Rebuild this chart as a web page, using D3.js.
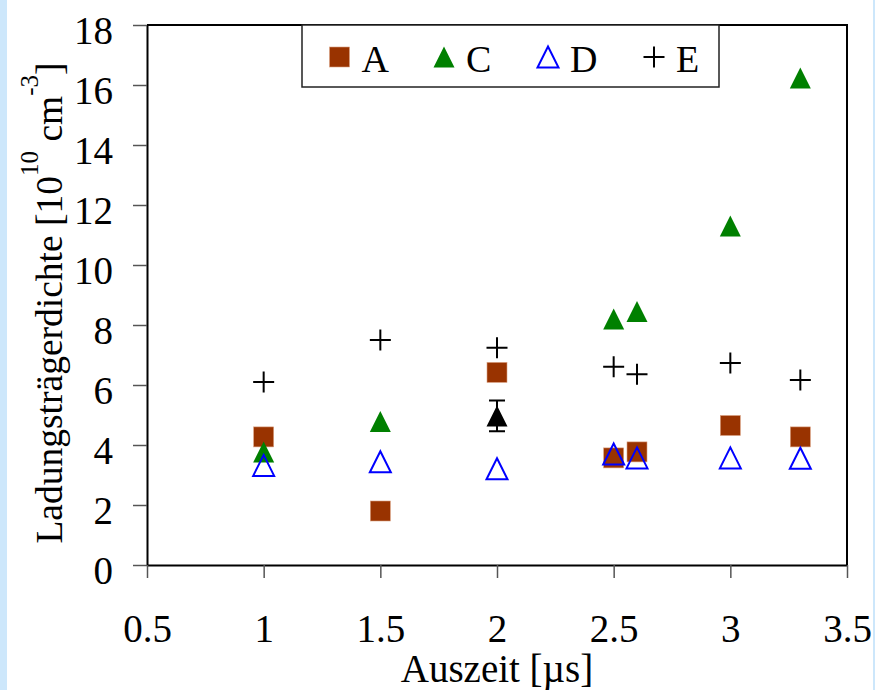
<!DOCTYPE html>
<html>
<head>
<meta charset="utf-8">
<script src="https://cdn.jsdelivr.net/npm/d3@7/dist/d3.min.js"></script>
<style>
  body { margin: 0; background: #fff; }
  svg { display: block; font-family: "Liberation Serif", "Times New Roman", serif; }
</style>
</head>
<body>
<div id="chart"></div>
<script>
// values
const xValues = [1, 1.5, 2, 2.5, 2.6, 3, 3.3];
const seriesA = [4.27, 1.8, 6.42, 3.57, 3.77, 4.65, 4.27];
const seriesC = [3.77, 4.78, null, 8.2, 8.45, 11.3, 16.23];
const seriesD = [3.32, 3.44, 3.21, 3.7, 3.57, 3.57, 3.56];
const seriesE = [6.1, 7.5, 7.24, 6.61, 6.36, 6.73, 6.17];
const meanX = [2];
const meanY = [4.97];
const meanErr = [0.51];

const xTicks = [0.5, 1, 1.5, 2, 2.5, 3, 3.5];
const yTicks = [0, 2, 4, 6, 8, 10, 12, 14, 16, 18];
const legendNames = ["A", "C", "D", "E"];

const width = 875;
const height = 690;
const plot = { left: 147, right: 847, top: 25, bottom: 565 };

const svg = d3.select("#chart").append("svg")
  .attr("width", width)
  .attr("height", height);

// light blue page edges
svg.append("rect").attr("x", 0).attr("y", 0).attr("width", 7).attr("height", height).attr("fill", "#cde7fb");
svg.append("rect").attr("x", 873).attr("y", 0).attr("width", 2).attr("height", height).attr("fill", "#cde7fb");

const x = d3.scaleLinear().domain([0.5, 3.5]).range([plot.left, plot.right]);
const y = d3.scaleLinear().domain([0, 18]).range([plot.bottom, plot.top]);

// frame top + right
svg.append("path")
  .attr("d", `M${x(0.5)},${y(18)}H${x(3.5)}V${y(0)}`)
  .attr("fill", "none")
  .attr("stroke", "#000")
  .attr("stroke-width", 2);

// y axis
const yAxis = svg.append("g")
  .attr("transform", `translate(${plot.left},0)`)
  .call(d3.axisLeft(y).tickValues(yTicks).tickSize(14).tickSizeOuter(0).tickFormat(d3.format("d")));
yAxis.select(".domain").attr("stroke", "#000").attr("stroke-width", 2);
yAxis.selectAll(".tick line").attr("stroke", "#555").attr("stroke-width", 1.5);
yAxis.selectAll(".tick text")
  .attr("x", -34).attr("dy", null).attr("y", 18)
  .attr("fill", "#000")
  .style("font-size", "39px")
  .style("font-family", "'Liberation Serif', 'Times New Roman', serif");

// x axis
const xAxis = svg.append("g")
  .attr("transform", `translate(0,${plot.bottom})`)
  .call(d3.axisBottom(x).tickValues(xTicks).tickSize(13).tickSizeOuter(0).tickFormat(d => d));
xAxis.select(".domain").attr("stroke", "#000").attr("stroke-width", 2);
xAxis.selectAll(".tick line").attr("stroke", "#555").attr("stroke-width", 1.5);
xAxis.selectAll(".tick text")
  .attr("y", 77).attr("dy", null)
  .attr("fill", "#000")
  .style("font-size", "39px")
  .style("font-family", "'Liberation Serif', 'Times New Roman', serif");

// marker shapes
const sq = 20, tw = 21, th = 21, pl = 21;
function triPath(cx, cy) {
  return `M${cx},${cy - th / 2}L${cx + tw / 2},${cy + th / 2}L${cx - tw / 2},${cy + th / 2}Z`;
}
function plusPath(cx, cy) {
  return `M${cx - pl / 2},${cy}H${cx + pl / 2}M${cx},${cy - pl / 2}V${cy + pl / 2}`;
}
const pts = (ys) => xValues.map((xv, i) => ({ x: xv, y: ys[i] })).filter(d => d.y != null);

// A: brown squares
svg.append("g").selectAll("rect").data(pts(seriesA)).join("rect")
  .attr("x", d => x(d.x) - sq / 2).attr("y", d => y(d.y) - sq / 2)
  .attr("width", sq).attr("height", sq)
  .attr("fill", "#993300").attr("stroke", "#d9a080").attr("stroke-width", 0.6);

// C: green filled triangles
svg.append("g").selectAll("path").data(pts(seriesC)).join("path")
  .attr("d", d => triPath(x(d.x), y(d.y)))
  .attr("fill", "#008000");

// black mean point with error bar
const meanG = svg.append("g");
meanG.selectAll("path.err").data(meanX).join("path").attr("class", "err")
  .attr("d", (d, i) => {
    const cx = x(d), y1 = y(meanY[i] + meanErr[i]), y2 = y(meanY[i] - meanErr[i]);
    return `M${cx - 8},${y1}H${cx + 8}M${cx},${y1}V${y2}M${cx - 8},${y2}H${cx + 8}`;
  })
  .attr("stroke", "#000").attr("stroke-width", 2).attr("fill", "none");
meanG.selectAll("path.tri").data(meanX).join("path").attr("class", "tri")
  .attr("d", (d, i) => triPath(x(d), y(meanY[i])))
  .attr("fill", "#000");

// D: blue open triangles
svg.append("g").selectAll("path").data(pts(seriesD)).join("path")
  .attr("d", d => triPath(x(d.x), y(d.y)))
  .attr("fill", "none").attr("stroke", "#0000ff").attr("stroke-width", 2);

// E: black plus
svg.append("g").selectAll("path").data(pts(seriesE)).join("path")
  .attr("d", d => plusPath(x(d.x), y(d.y)))
  .attr("stroke", "#000").attr("stroke-width", 2).attr("fill", "none");

// legend
const legend = svg.append("g");
legend.append("rect")
  .attr("x", 302).attr("y", plot.top).attr("width", 417).attr("height", 62)
  .attr("fill", "#fff").attr("stroke", "#222").attr("stroke-width", 1.5);
const legX = [339.5, 444, 548, 654];
const legY = 57;
legend.append("rect").attr("x", legX[0] - sq / 2).attr("y", legY - sq / 2).attr("width", sq).attr("height", sq)
  .attr("fill", "#993300").attr("stroke", "#d9a080").attr("stroke-width", 0.6);
legend.append("path").attr("d", triPath(legX[1], legY)).attr("fill", "#008000");
legend.append("path").attr("d", triPath(legX[2], legY)).attr("fill", "none").attr("stroke", "#0000ff").attr("stroke-width", 2);
legend.append("path").attr("d", plusPath(legX[3], legY)).attr("stroke", "#000").attr("stroke-width", 2);
legend.selectAll("text").data(legendNames).join("text")
  .attr("x", (d, i) => legX[i] + 22).attr("y", 72)
  .style("font-size", "38px")
  .text(d => d);

// axis titles
svg.append("text")
  .attr("x", 497).attr("y", 682)
  .attr("text-anchor", "middle")
  .style("font-size", "39px")
  .text("Auszeit [µs]");

const yTitle = svg.append("text")
  .attr("transform", "translate(62,303) rotate(-90)")
  .attr("text-anchor", "middle")
  .style("font-size", "37.5px");
yTitle.append("tspan").text("Ladungsträgerdichte [10");
yTitle.append("tspan").attr("dy", -24).style("font-size", "25px").text("10");
yTitle.append("tspan").attr("dy", 24).text(" cm");
yTitle.append("tspan").attr("dy", -24).style("font-size", "25px").text("-3");
yTitle.append("tspan").attr("dy", 24).text("]");
</script>
</body>
</html>
